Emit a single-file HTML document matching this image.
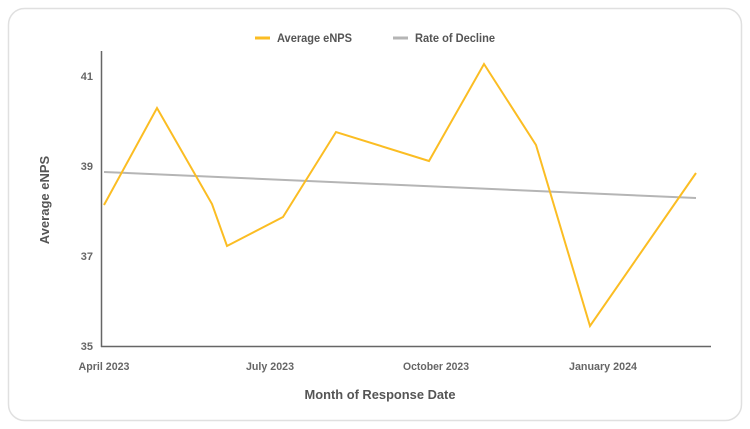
<!DOCTYPE html>
<html><head><style>
html,body{margin:0;padding:0;background:#fff;}
svg{display:block;font-family:"Liberation Sans",sans-serif;}
</style></head><body>
<svg width="750" height="429" viewBox="0 0 750 429">
<rect x="8.5" y="8.5" width="733" height="412" rx="16" fill="#fff" stroke="#e0e0e0" stroke-width="1.5"/>
<line x1="255" y1="38" x2="270" y2="38" stroke="#fbbd23" stroke-width="3"/>
<text x="277" y="42" font-size="12" font-weight="bold" fill="#555" textLength="75" lengthAdjust="spacingAndGlyphs">Average eNPS</text>
<line x1="393" y1="38" x2="408" y2="38" stroke="#b5b5b5" stroke-width="3"/>
<text x="415" y="42" font-size="12" font-weight="bold" fill="#555" textLength="80" lengthAdjust="spacingAndGlyphs">Rate of Decline</text>
<line x1="101.5" y1="51" x2="101.5" y2="347" stroke="#666" stroke-width="1.5"/>
<line x1="101" y1="346.5" x2="711" y2="346.5" stroke="#666" stroke-width="1.5"/>
<g font-size="11" font-weight="bold" fill="#666" text-anchor="end">
<text x="93" y="80">41</text><text x="93" y="170">39</text><text x="93" y="260">37</text><text x="93" y="350">35</text>
</g>
<g font-size="11" font-weight="bold" fill="#666" text-anchor="middle">
<text x="104" y="370" textLength="51" lengthAdjust="spacingAndGlyphs">April 2023</text><text x="270" y="370" textLength="48" lengthAdjust="spacingAndGlyphs">July 2023</text><text x="436" y="370" textLength="66" lengthAdjust="spacingAndGlyphs">October 2023</text><text x="603" y="370" textLength="68" lengthAdjust="spacingAndGlyphs">January 2024</text>
</g>
<text x="380" y="399" font-size="13" font-weight="bold" fill="#555" text-anchor="middle" textLength="151" lengthAdjust="spacingAndGlyphs">Month of Response Date</text>
<text transform="translate(49,200) rotate(-90)" font-size="13" font-weight="bold" fill="#555" text-anchor="middle">Average eNPS</text>
<line x1="104" y1="172" x2="696" y2="198" stroke="#b5b5b5" stroke-width="2"/>
<polyline fill="none" stroke="#fbbd23" stroke-width="2" stroke-linejoin="miter" points="104,205 157,108 212,204 227,246 283,217 336,132 429,161 484,64 536,145 590,326 696,173"/>
</svg>
</body></html>
